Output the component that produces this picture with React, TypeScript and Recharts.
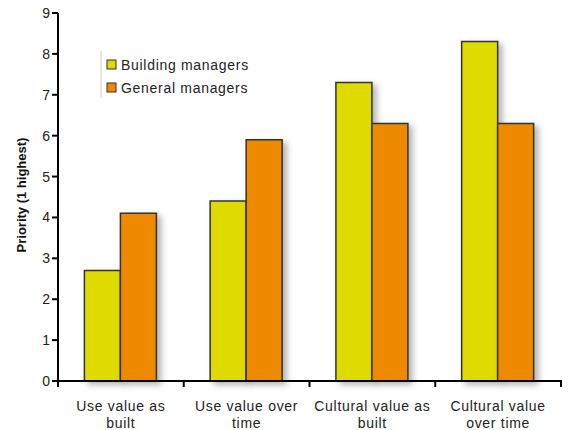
import { BarChart, Bar, XAxis, YAxis } from "recharts";

const categories = [
  ["Use value as", "built"],
  ["Use value over", "time"],
  ["Cultural value as", "built"],
  ["Cultural value", "over time"],
];
const buildingManagers = [2.7, 4.4, 7.3, 8.3];
const generalManagers = [4.1, 5.9, 6.3, 6.3];
const yTicks = [0, 1, 2, 3, 4, 5, 6, 7, 8, 9];
const seriesNames = ["Building managers", "General managers"];
const seriesColors = ["#dfdb00", "#ee8a00"];

const data = categories.map((c, i) => ({
  name: c.join(" "),
  building: buildingManagers[i],
  general: generalManagers[i],
}));

const FONT = "'Liberation Sans', Arial, Helvetica, sans-serif";
const W = 569;
const H = 430;
const MARGIN = { top: 13, right: 8, bottom: 4, left: 0 };
const Y_AXIS_W = 58;
const BAND = (W - MARGIN.left - MARGIN.right - Y_AXIS_W) / categories.length;

function CatTick({ x, y, payload }: any) {
  const lines = categories[payload.index] ?? [payload.value];
  const top = y - 8;
  const left = x - BAND / 2;
  const right = x + BAND / 2;
  const last = payload.index === categories.length - 1;
  return (
    <g>
      <line x1={left} y1={top - 1} x2={left} y2={top + 6} stroke="#000" strokeWidth={2} />
      {last && <line x1={right} y1={top - 1} x2={right} y2={top + 6} stroke="#000" strokeWidth={2} />}
      <text x={x} y={y + 22} textAnchor="middle" fontSize={14} letterSpacing={0.7} fill="#222" fontFamily={FONT}>
        {lines.map((l: string, i: number) => (
          <tspan key={i} x={x} dy={i === 0 ? 0 : 17}>
            {l}
          </tspan>
        ))}
      </text>
    </g>
  );
}

function LegendBox() {
  return (
    <svg width={180} height={52} style={{ position: "absolute", left: 100, top: 51, overflow: "visible" }}>
      <line x1={1} y1={0} x2={1} y2={47} stroke="#ccc" strokeWidth={1} />
      {seriesNames.map((label, i) => (
        <g key={label}>
          <rect x={7} y={9 + i * 23} width={9} height={9} fill={seriesColors[i]} stroke="#333" strokeWidth={1} />
          <text x={21} y={19 + i * 23} fontSize={14} letterSpacing={0.7} fill="#222" fontFamily={FONT}>
            {label}
          </text>
        </g>
      ))}
    </svg>
  );
}

export default function App() {
  return (
    <div style={{ position: "absolute", left: 0, top: 0, width: W, height: H, background: "#fff" }}>
      <BarChart
        width={W}
        height={H}
        data={data}
        margin={MARGIN}
        barCategoryGap="21%"
        barGap={0}
      >
        <defs>
          <filter id="shadow" x="-30%" y="-10%" width="160%" height="130%">
            <feDropShadow dx={4} dy={3} stdDeviation={3} floodColor="#000" floodOpacity={0.3} />
          </filter>
        </defs>
        <XAxis
          dataKey="name"
          interval={0}
          height={45}
          axisLine={{ stroke: "#000", strokeWidth: 2 }}
          tickLine={false}
          tick={<CatTick />}
        />
        <YAxis
          width={Y_AXIS_W}
          domain={[0, 9]}
          ticks={yTicks}
          interval={0}
          axisLine={{ stroke: "#000", strokeWidth: 2 }}
          tickLine={{ stroke: "#000", strokeWidth: 2 }}
          tickSize={6}
          tick={{ fontSize: 14, fill: "#222", fontFamily: FONT }}
          label={{
            value: "Priority (1 highest)",
            angle: -90,
            position: "insideLeft",
            dx: 16,
            dy: -2,
            style: { fontSize: 13, fontWeight: "bold", fill: "#111", fontFamily: FONT, textAnchor: "middle" },
          }}
        />
        <Bar
          dataKey="building"
          name={seriesNames[0]}
          fill={seriesColors[0]}
          stroke="#333"
          strokeWidth={1.5}
          filter="url(#shadow)"
          isAnimationActive={false}
        />
        <Bar
          dataKey="general"
          name={seriesNames[1]}
          fill={seriesColors[1]}
          stroke="#333"
          strokeWidth={1.5}
          filter="url(#shadow)"
          isAnimationActive={false}
        />
      </BarChart>
      <LegendBox />
    </div>
  );
}
